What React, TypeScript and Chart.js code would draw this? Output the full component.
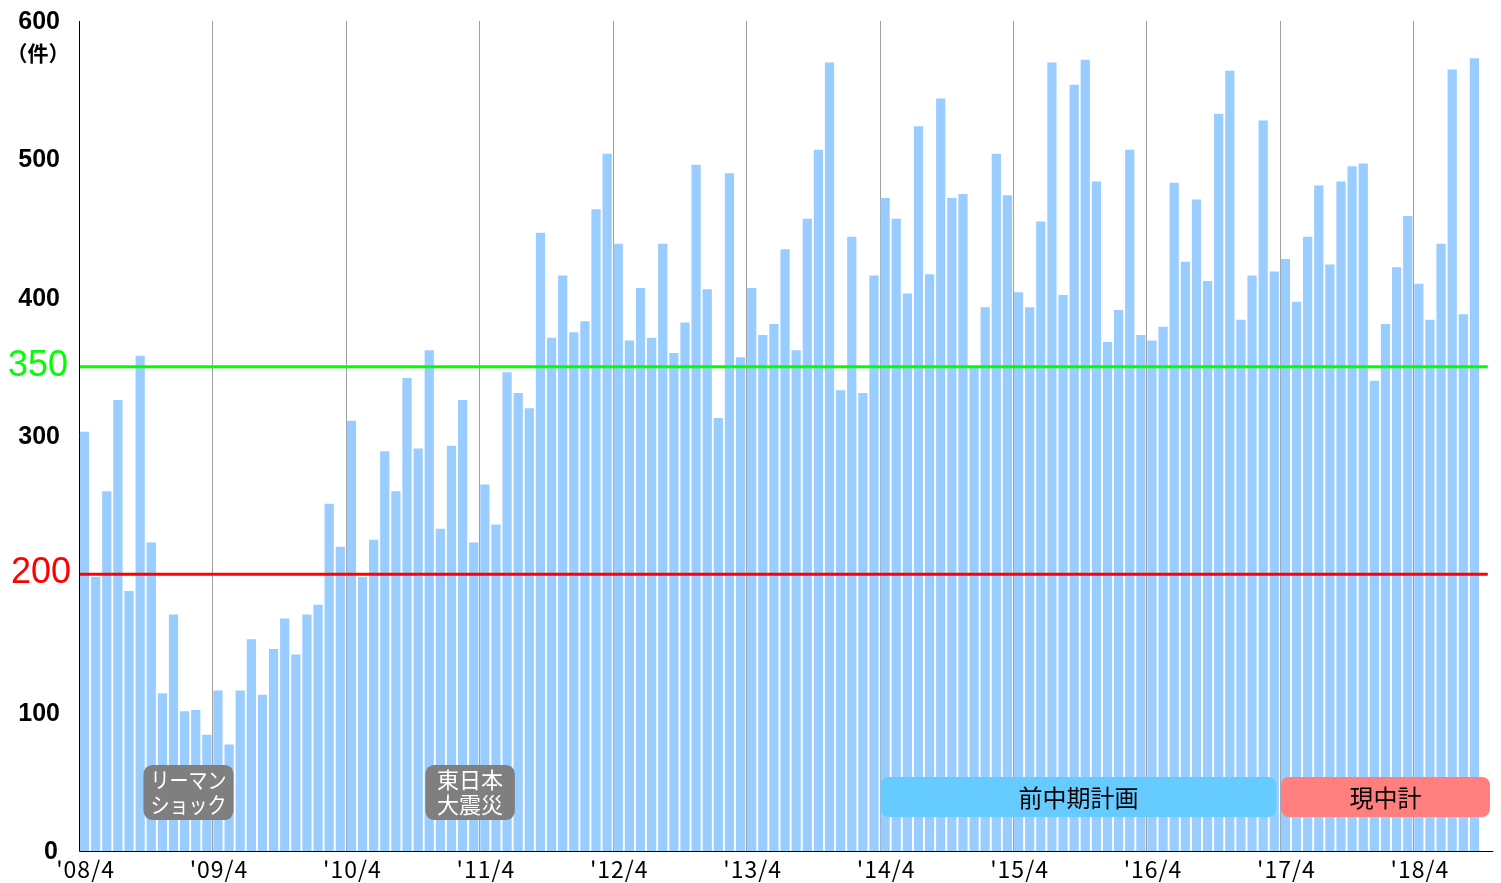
import React, { useEffect, useRef } from 'react';
import { Chart, registerables } from 'chart.js';

Chart.register(...registerables);

// Monthly counts (件), '08/4 .. '18/9
const startYear = 2008;
const startMonth = 4;
const counts = [
  303, 198, 260, 326, 188, 358, 223, 114, 171, 101, 102, 84,
  116, 77, 116, 153, 113, 146, 168, 142, 171, 178, 251, 220,
  311, 198, 225, 289, 260, 342, 291, 362, 233, 293, 326, 223,
  265, 236, 346, 331, 320, 447, 371, 416, 375, 383, 464, 504,
  439, 369, 407, 371, 439, 360, 382, 496, 406, 313, 490, 357,
  407, 373, 381, 435, 362, 457, 507, 570, 333, 444, 331, 416,
  472, 457, 403, 524, 417, 544, 472, 475, 350, 393, 504, 474,
  404, 393, 455, 570, 402, 554, 572, 484, 368, 391, 507, 373,
  369, 379, 483, 426, 471, 412, 533, 564, 384, 416, 528, 419,
  428, 397, 444, 481, 424, 484, 495, 497, 340, 381, 422, 459,
  410, 384, 439, 565, 388, 573,
];

const months = counts.map((_, i) => {
  const k = startMonth - 1 + i;
  const y = (startYear + Math.floor(k / 12)) % 100;
  const m = (k % 12) + 1;
  return `'${String(y).padStart(2, '0')}/${m}`;
});

const yTickValues = [0, 100, 300, 400, 500, 600];
const yUnit = '（件）';

const targetLines = [
  { value: 350, color: '#00ff00', labelRight: 68 },
  { value: 200, color: '#ff0000', labelRight: 71 },
];

// Event labels: category-index range and value range
const events = [
  { lines: ['リーマン', 'ショック'], from: 5.8, to: 13.9, lo: 22.4, hi: 62.2 },
  { lines: ['東日本', '大震災'], from: 31.15, to: 39.2, lo: 22.4, hi: 62.2 },
];

const plans = [
  { label: '前中期計画', from: 72.1, to: 107.7, lo: 24.6, hi: 53.5, color: '#66ccff' },
  { label: '現中計', from: 108.1, to: 126.9, lo: 24.6, hi: 53.5, color: '#ff7f7f' },
];

const overlayPlugin = {
  id: 'overlay',
  beforeDatasetsDraw(chart: any) {
    const { ctx, chartArea } = chart;
    const cw = chartArea.width / counts.length;
    ctx.save();
    ctx.strokeStyle = '#a0a0a0';
    ctx.lineWidth = 1;
    for (let i = 12; i < counts.length; i += 12) {
      const x = Math.round(chartArea.left + i * cw) + 0.5;
      ctx.beginPath();
      ctx.moveTo(x, chartArea.top);
      ctx.lineTo(x, chartArea.bottom);
      ctx.stroke();
    }
    ctx.restore();
  },
  afterDatasetsDraw(chart: any) {
    const { ctx, chartArea } = chart;
    const ys = chart.scales.y;
    const cw = chartArea.width / counts.length;
    const xAt = (f: number) => chartArea.left + f * cw;
    ctx.save();

    // target lines
    for (const t of targetLines) {
      const y = ys.getPixelForValue(t.value);
      ctx.strokeStyle = t.color;
      ctx.lineWidth = 3;
      ctx.beginPath();
      ctx.moveTo(chartArea.left, y);
      ctx.lineTo(xAt(126.7), y);
      ctx.stroke();
    }

    // event boxes
    for (const e of events) {
      const x0 = xAt(e.from), x1 = xAt(e.to);
      const y0 = ys.getPixelForValue(e.hi), y1 = ys.getPixelForValue(e.lo);
      ctx.fillStyle = '#7f7f7f';
      ctx.beginPath();
      ctx.roundRect(x0, y0, x1 - x0, y1 - y0, 9);
      ctx.fill();
      ctx.fillStyle = '#ffffff';
      ctx.font = '22px "Noto Sans CJK JP"';
      ctx.textAlign = 'center';
      ctx.textBaseline = 'middle';
      const cx = (x0 + x1) / 2, cy = (y0 + y1) / 2;
      const lh = 25;
      e.lines.forEach((ln, i) => {
        ctx.fillText(ln, cx, cy + (i - (e.lines.length - 1) / 2) * lh, x1 - x0 - 14);
      });
    }

    // plan boxes
    for (const p of plans) {
      const x0 = xAt(p.from), x1 = xAt(p.to);
      const y0 = ys.getPixelForValue(p.hi), y1 = ys.getPixelForValue(p.lo);
      ctx.fillStyle = p.color;
      ctx.beginPath();
      ctx.roundRect(x0, y0, x1 - x0, y1 - y0, 8);
      ctx.fill();
      ctx.fillStyle = '#000000';
      ctx.font = '24px "Noto Sans CJK JP"';
      ctx.textAlign = 'center';
      ctx.textBaseline = 'middle';
      ctx.fillText(p.label, (x0 + x1) / 2, (y0 + y1) / 2 + 1);
    }

    // axes
    ctx.strokeStyle = '#000000';
    ctx.lineWidth = 1;
    ctx.beginPath();
    ctx.moveTo(chartArea.left + 0.5, chartArea.top);
    ctx.lineTo(chartArea.left + 0.5, chartArea.bottom + 0.5);
    ctx.lineTo(xAt(127.2), chartArea.bottom + 0.5);
    ctx.stroke();

    // y tick labels
    ctx.fillStyle = '#000000';
    ctx.font = 'bold 25px "Liberation Sans"';
    ctx.textAlign = 'right';
    ctx.textBaseline = 'middle';
    for (const v of yTickValues) {
      ctx.fillText(String(v), v === 0 ? 58 : 60, ys.getPixelForValue(v) + 1);
    }
    ctx.font = 'bold 21px "Noto Sans CJK JP"';
    ctx.textAlign = 'center';
    ctx.fillText(yUnit, 38, ys.getPixelForValue(600) + 32);

    for (const t of targetLines) {
      ctx.fillStyle = t.color;
      ctx.font = '36px "Liberation Sans"';
      ctx.textAlign = 'right';
      ctx.textBaseline = 'middle';
      ctx.fillText(String(t.value), t.labelRight, ys.getPixelForValue(t.value) - 1);
    }

    // x tick labels
    ctx.fillStyle = '#000000';
    ctx.font = '23px "Noto Sans CJK JP"';
    (ctx as any).letterSpacing = '1px';
    ctx.textAlign = 'center';
    ctx.textBaseline = 'alphabetic';
    months.forEach((lab, i) => {
      if (i % 12 === 0) ctx.fillText(lab, xAt(i + 0.5) + 1, chartArea.bottom + 27);
    });
    ctx.restore();
  },
};

export default function App() {
  const ref = useRef<HTMLCanvasElement>(null);
  useEffect(() => {
    if (!ref.current) return;
    const chart = new Chart(ref.current, {
      type: 'bar',
      data: {
        labels: months,
        datasets: [
          {
            data: counts,
            backgroundColor: '#99ccff',
            borderWidth: 0,
            barPercentage: 0.83,
            categoryPercentage: 1,
          },
        ],
      },
      options: {
        responsive: false,
        animation: false,
        devicePixelRatio: 1,
        layout: { padding: { top: 21, right: 21, left: 0, bottom: 0 } },
        plugins: { legend: { display: false }, tooltip: { enabled: false } },
        scales: {
          x: {
            grid: { display: false },
            ticks: { display: false },
            border: { display: false },
            afterFit: (s: any) => { s.height = 32; },
          },
          y: {
            min: 0,
            max: 600,
            grid: { display: false },
            ticks: { display: false },
            border: { display: false },
            afterFit: (s: any) => { s.width = 79; },
          },
        },
      },
      plugins: [overlayPlugin],
    });
    return () => chart.destroy();
  }, []);
  return (
    <div style={{ position: 'absolute', left: 0, top: 0, width: 1501, height: 883, background: '#fff' }}>
      <canvas ref={ref} width={1501} height={883} />
    </div>
  );
}
